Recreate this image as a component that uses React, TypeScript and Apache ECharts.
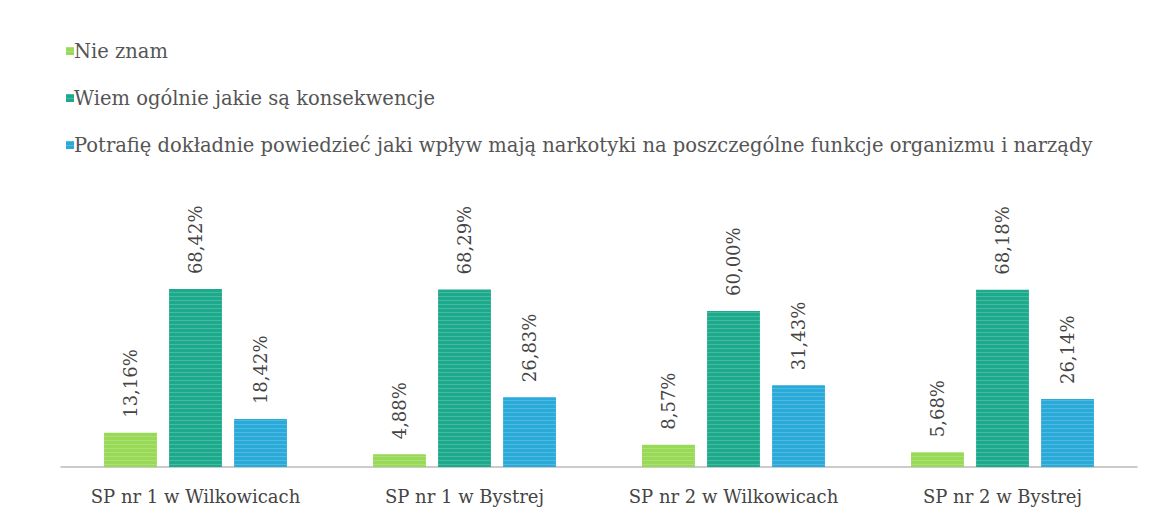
import React, { useEffect, useRef } from "react";
import * as echarts from "echarts";

const categories = ["SP nr 1 w Wilkowicach", "SP nr 1 w Bystrej", "SP nr 2 w Wilkowicach", "SP nr 2 w Bystrej"];
const seriesNames = [
  "Nie znam",
  "Wiem ogólnie jakie są konsekwencje",
  "Potrafię dokładnie powiedzieć jaki wpływ mają narkotyki na poszczególne funkcje organizmu i narządy",
];
const nieZnam = [13.16, 4.88, 8.57, 5.68];
const wiemOgolnie = [68.42, 68.29, 60.0, 68.18];
const potrafie = [18.42, 26.83, 31.43, 26.14];
const colors = ["#98d957", "#1daa8c", "#2aaad8"];

export default function App() {
  const ref = useRef<HTMLDivElement>(null);
  useEffect(() => {
    document.body.style.margin = "0";
    const chart = echarts.init(ref.current!, null, { renderer: "svg" });
    const font = "DejaVu Serif";
    const mk = (name: string, data: number[], color: string) => ({
      name,
      type: "bar",
      data,
      barCategoryGap: "32%",
      barGap: "23%",
      itemStyle: {
        color,
        decal: {
          symbol: "rect",
          symbolSize: 1,
          color: "rgba(255,255,255,0.18)",
          dashArrayX: [1, 0],
          dashArrayY: [1, 3],
          rotation: 0,
        },
      },
      label: {
        show: true,
        position: "top",
        rotate: 90,
        align: "left",
        verticalAlign: "middle",
        distance: 15,
        fontFamily: font,
        fontSize: 18,
        color: "#444",
        formatter: (p: any) => p.value.toFixed(2).replace(".", ",") + "%",
      },
    });
    chart.setOption({
      animation: false,
      color: colors,
      legend: {
        orient: "vertical",
        left: 61,
        top: 36,
        icon: "rect",
        itemWidth: 8,
        itemHeight: 8,
        itemGap: 27,
        textStyle: { fontFamily: font, fontSize: 19.5, color: "#555", padding: [0, 0, 0, -5] },
        data: seriesNames,
      },
      grid: { left: 61, right: 17, top: 207, height: 260 },
      xAxis: {
        type: "category",
        data: categories,
        axisLine: { lineStyle: { color: "#bbb", width: 1.5 } },
        axisTick: { show: false },
        axisLabel: { interval: 0, fontFamily: font, fontSize: 18, color: "#444", margin: 20 },
      },
      yAxis: { type: "value", min: 0, max: 100, show: false },
      series: [
        mk(seriesNames[0], nieZnam, colors[0]),
        mk(seriesNames[1], wiemOgolnie, colors[1]),
        mk(seriesNames[2], potrafie, colors[2]),
      ],
    });
    return () => chart.dispose();
  }, []);
  return <div ref={ref} style={{ width: 1154, height: 529 }} />;
}
